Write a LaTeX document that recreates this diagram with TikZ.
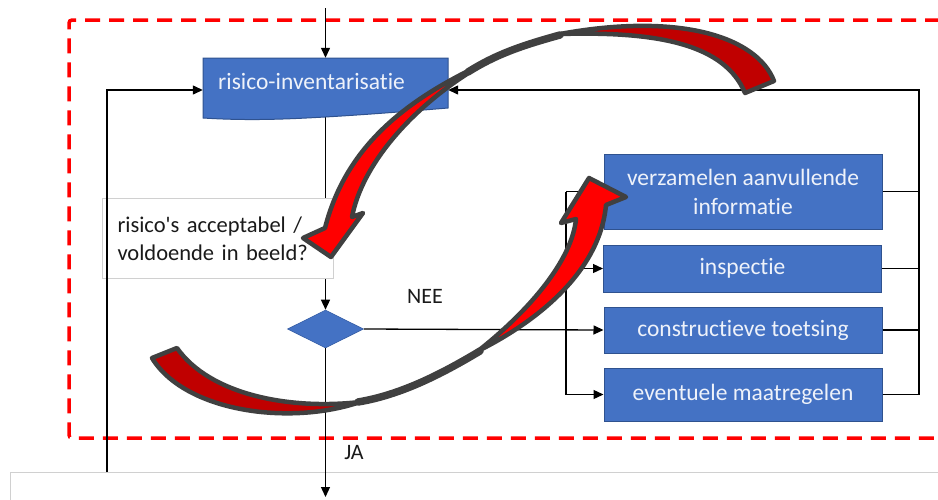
\documentclass[tikz,border=0pt]{standalone}
\usepackage{fontspec}
\setmainfont{Carlito}
\newfontfamily\carl{Carlito}[Ligatures=NoCommon]
\usetikzlibrary{arrows.meta,shapes.geometric,calc}
\definecolor{boxblue}{HTML}{4472C4}
\definecolor{boxborder}{HTML}{2F528F}
\definecolor{boxtext}{HTML}{EEF2FA}
\definecolor{txtdark}{HTML}{1A1A1A}
\definecolor{dashred}{HTML}{FF0000}
\definecolor{arrred}{HTML}{FF0000}
\definecolor{arrdark}{HTML}{C00000}
\definecolor{arrgray}{HTML}{404040}
\definecolor{panelgray}{HTML}{D0D0D0}
\begin{document}
\begin{tikzpicture}[x=1pt,y=-1pt,
  box/.style={rectangle, fill=boxblue, draw=boxborder, line width=1pt,
    minimum width=278pt, text=boxtext, font=\carl\fontsize{23.5}{29}\selectfont,
    align=center, inner sep=0pt},
  conn/.style={draw=black, line width=1.3pt},
  arr/.style={conn, -{Triangle[length=10pt,width=9pt]}},
  lbl/.style={font=\carl\fontsize{22}{28}\selectfont, text=txtdark, inner sep=0pt},
  panel/.style={draw=panelgray, line width=1pt, rectangle, inner sep=0pt},
  reddash/.style={draw=dashred, line width=3.5pt, dash pattern=on 15pt off 9pt, rounded corners=3pt},
  arrthin/.style={draw=arrgray, line width=7.5pt, line cap=round},
  arrback/.style={fill=arrdark, draw=arrgray, line width=4.5pt, line join=round},
  arrfront/.style={fill=arrred, draw=arrgray, line width=4.5pt, line join=round}
]
\useasboundingbox (0,0) rectangle (938,499);

% bottom panel
\node[panel, anchor=north west, minimum width=940pt, minimum height=40pt] (bb) at (10,472) {};

% dashed frame
\draw[reddash] (940,20) -- (69,20) -- (69,438) -- (940,438);

% nodes
\node[inner sep=0pt, minimum width=245pt, minimum height=64pt] (ri) at (325.5,90) {};
\node[diamond, fill=boxblue, draw=boxblue!85!black, line width=0.6pt, inner sep=0pt,
      minimum width=76pt, minimum height=38pt] (d) at (325.5,329) {};
\coordinate (top) at (325.5,8);
\coordinate (bot) at (325.5,497);

% line from risico-inventarisatie to diamond (partly covered)
\draw[arr] (ri.center) -- (d.north);

% risico-inventarisatie document shape
\draw[fill=boxblue, draw=boxborder, line width=1pt]
  (203,58) -- (448,58) -- (448,108)
  .. controls (400,112) and (360,115) .. (325,117)
  .. controls (290,119) and (250,121) .. (203,118) -- cycle;
\node[lbl, text=boxtext, font=\carl\fontsize{23.5}{29}\selectfont, anchor=west] (rit) at (218,81) {risico-inventarisatie};

% question box
\node[panel, fill=white, minimum width=231pt, minimum height=80pt, anchor=north west,
      font=\carl\fontsize{22.5}{28}\selectfont, text=txtdark, align=left, text width=201pt, inner xsep=15pt]
  (q) at (102,198) {\mbox{risico's acceptabel /}\\\mbox{voldoende in beeld?}};

% right boxes
\node[box, minimum height=75pt] (v) at (743,191.5) {verzamelen aanvullende\\informatie};
\node[box, minimum height=47pt] (i) at (742.5,268.5) {inspectie};
\node[box, minimum height=46pt] (c) at (743,330) {constructieve toetsing};
\node[box, minimum height=53pt] (e) at (743,394.5) {eventuele maatregelen};

% labels
\node[lbl] (nee) at (425,296) {NEE};
\node[lbl] (ja) at (354,453) {JA};

% connectors
\draw[arr] (top) -- (ri.north);
\draw[arr] (d.south) -- (bot);
\coordinate (lb) at (107,472);
\draw[arr] (lb) |- (ri.west);
\coordinate (rx) at (919,90);
\draw[arr] (e.east) -| (rx) -- (ri.east);
\draw[conn] (v.east) -- (v.east -| rx);
\draw[conn] (i.east) -- (i.east -| rx);
\draw[conn] (c.east) -- (c.east -| rx);
\coordinate (lx) at (566,0);
\draw[conn] (lx |- v.west) -- (lx |- e.west);
\draw[arr] (lx |- v.west) -- (v.west);
\draw[arr] (lx |- i.west) -- (i.west);
\draw[arr] (lx |- e.west) -- (e.west);
\draw[arr] (d.east) -- (c.west);

% red curved arrow 1 (top, pointing down-left)
\draw[arrthin] (560,35) .. controls (520,46) and (495,55) .. (468,72);
\filldraw[arrback] (774,81) .. controls (757,37) and (680,12) .. (560,34)
  .. controls (660,31) and (725,45) .. (745,93) -- cycle;
\filldraw[arrfront] (470,70) .. controls (400,105) and (345,150) .. (325,228)
  -- (303,238) -- (331,257) -- (363,213) -- (352,217)
  .. controls (362,165) and (410,110) .. (470,72) -- cycle;

% red curved arrow 2 (bottom, pointing up-right)
\draw[arrthin] (358,402) .. controls (400,395) and (440,375) .. (480,351);
\filldraw[arrback] (152,358) .. controls (185,412) and (290,426) .. (360,402)
  .. controls (290,410) and (210,395) .. (177,348) -- cycle;
\filldraw[arrfront] (478,351) .. controls (540,320) and (600,270) .. (606,205)
  -- (626,197) -- (589,178) -- (561,223) -- (576,219)
  .. controls (572,260) and (530,310) .. (478,351) -- cycle;
\end{tikzpicture}
\end{document}
